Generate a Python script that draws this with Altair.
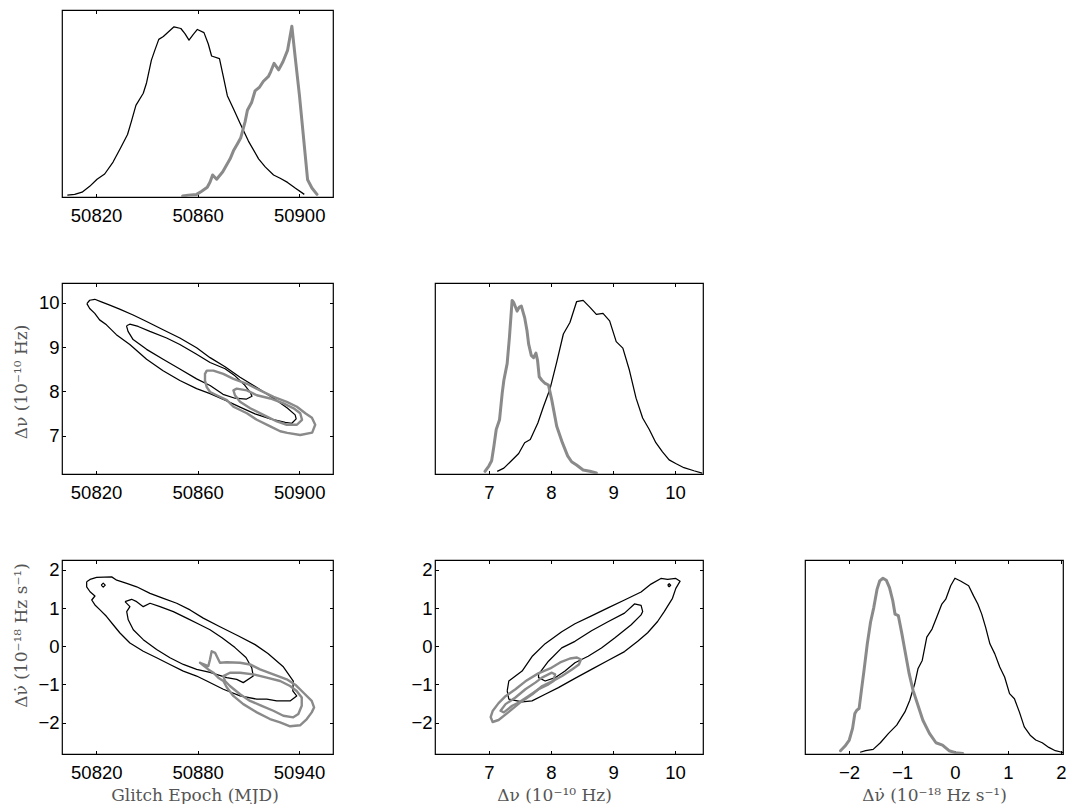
import altair as alt
import pandas as pd

# ---------------- marginal: glitch epoch (MJD) ----------------
ep_black_x = [50808.7, 50811.6, 50814.5, 50817.5, 50820.4, 50823.4, 50826.7, 50829.6, 50832.4, 50833.9,
              50835.7, 50838.6, 50839.9, 50841.8, 50843.2, 50844.7, 50846.5, 50847.8, 50850.7, 50853.4,
              50855.0, 50856.6, 50858.3, 50859.9, 50862.5, 50864.2, 50865.5, 50868.6, 50870.1, 50871.7,
              50874.1, 50876.7, 50880.0, 50884.0, 50886.6, 50889.9, 50892.5, 50895.4, 50898.4, 50902.0]
ep_black_d = [0.010, 0.014, 0.026, 0.057, 0.095, 0.123, 0.187, 0.261, 0.334, 0.403,
              0.490, 0.555, 0.611, 0.732, 0.787, 0.843, 0.858, 0.874, 0.910, 0.901,
              0.874, 0.839, 0.870, 0.896, 0.879, 0.818, 0.754, 0.740, 0.645, 0.542,
              0.472, 0.394, 0.299, 0.204, 0.161, 0.118, 0.100, 0.078, 0.048, 0.014]
ep_gray_x = [50854.1, 50856.3, 50859.6, 50861.6, 50863.8, 50864.9, 50865.9, 50867.5, 50869.9, 50872.8,
             50874.1, 50875.7, 50877.0, 50878.7, 50879.6, 50881.3, 50882.6, 50884.4, 50885.9, 50887.9,
             50888.8, 50890.1, 50891.9, 50893.6, 50895.4, 50897.1, 50898.4, 50900.1, 50901.7, 50903.3,
             50905.0, 50907.0]
ep_gray_d = [0.005, 0.010, 0.014, 0.031, 0.052, 0.080, 0.118, 0.095, 0.135, 0.204,
             0.247, 0.285, 0.317, 0.403, 0.464, 0.507, 0.567, 0.588, 0.619, 0.645,
             0.671, 0.715, 0.680, 0.723, 0.784, 0.913, 0.749, 0.542, 0.317, 0.092,
             0.048, 0.014]

# ---------------- marginal: delta nu ----------------
nu_black_x = [7.133, 7.240, 7.362, 7.479, 7.575, 7.666, 7.788, 7.879, 7.986, 8.092, 8.199, 8.305,
              8.412, 8.518, 8.625, 8.731, 8.838, 8.945, 9.051, 9.158, 9.264, 9.371, 9.477, 9.584,
              9.690, 9.797, 9.904, 10.010, 10.143, 10.303, 10.436]
nu_black_d = [0.014, 0.031, 0.069, 0.107, 0.164, 0.181, 0.267, 0.353, 0.448, 0.586, 0.733, 0.793,
              0.902, 0.909, 0.874, 0.836, 0.841, 0.802, 0.693, 0.659, 0.543, 0.397, 0.293, 0.233,
              0.164, 0.116, 0.074, 0.055, 0.033, 0.017, 0.005]
nu_gray_x = [6.936, 7.000, 7.043, 7.080, 7.117, 7.170, 7.213, 7.240, 7.293, 7.330, 7.373, 7.400,
             7.453, 7.490, 7.522, 7.575, 7.613, 7.639, 7.682, 7.719, 7.757, 7.783, 7.810, 7.852,
             7.906, 7.959, 8.012, 8.092, 8.183, 8.268, 8.332, 8.412, 8.518, 8.625, 8.731]
nu_gray_d = [0.014, 0.043, 0.069, 0.147, 0.233, 0.284, 0.422, 0.491, 0.578, 0.716, 0.909, 0.897,
             0.853, 0.874, 0.879, 0.819, 0.750, 0.681, 0.621, 0.609, 0.633, 0.595, 0.509, 0.491,
             0.474, 0.466, 0.388, 0.250, 0.164, 0.095, 0.064, 0.047, 0.021, 0.014, 0.005]

# ---------------- marginal: delta nu-dot ----------------
nd_black_x = [-1.790, -1.685, -1.543, -1.407, -1.253, -1.099, -0.944, -0.852, -0.759, -0.698,
              -0.617, -0.531, -0.432, -0.346, -0.247, -0.173, -0.080, 0.000, 0.105, 0.259,
              0.352, 0.432, 0.506, 0.580, 0.660, 0.753, 0.846, 0.938, 1.031, 1.123,
              1.216, 1.309, 1.420, 1.525, 1.648, 1.772, 1.895, 2.019, 2.130]
nd_black_d = [0.009, 0.017, 0.024, 0.058, 0.106, 0.149, 0.217, 0.277, 0.362, 0.439,
              0.482, 0.602, 0.644, 0.704, 0.773, 0.798, 0.867, 0.906, 0.892, 0.867,
              0.815, 0.773, 0.721, 0.653, 0.568, 0.516, 0.448, 0.397, 0.311, 0.285,
              0.217, 0.140, 0.097, 0.072, 0.058, 0.034, 0.017, 0.009, 0.003]
nd_gray_x = [-2.160, -2.074, -1.994, -1.932, -1.889, -1.852, -1.809, -1.765, -1.716, -1.654,
             -1.593, -1.531, -1.469, -1.420, -1.358, -1.296, -1.235, -1.173, -1.130, -1.068,
             -1.006, -0.944, -0.864, -0.790, -0.698, -0.605, -0.481, -0.358, -0.235, -0.111,
             0.012, 0.148]
nd_gray_d = [0.017, 0.041, 0.072, 0.132, 0.209, 0.226, 0.234, 0.328, 0.431, 0.568,
             0.679, 0.756, 0.850, 0.892, 0.906, 0.896, 0.858, 0.790, 0.721, 0.713,
             0.627, 0.533, 0.414, 0.328, 0.251, 0.174, 0.106, 0.058, 0.046, 0.017,
             0.007, 0.003]

# ---------------- contours: epoch vs delta nu ----------------
en_ob_x = [50816.4, 50817.5, 50819.5, 50822.1, 50825.4, 50829.3, 50834.6, 50839.9, 50846.4, 50853.0,
           50859.6, 50864.9, 50870.8, 50876.7, 50883.8, 50889.9, 50895.3, 50898.4, 50898.8, 50897.1,
           50894.5, 50888.6, 50882.6, 50876.7, 50870.8, 50864.9, 50859.6, 50853.0, 50846.4, 50839.9,
           50833.3, 50828.0, 50824.1, 50821.4, 50819.5, 50817.5, 50816.4]
en_ob_y = [9.984, 10.060, 10.082, 10.022, 9.949, 9.860, 9.727, 9.578, 9.393, 9.207,
           8.984, 8.762, 8.556, 8.318, 8.067, 7.844, 7.622, 7.467, 7.378, 7.278,
           7.300, 7.378, 7.489, 7.644, 7.800, 7.949, 8.060, 8.244, 8.467, 8.727,
           9.060, 9.282, 9.504, 9.616, 9.762, 9.873, 9.984]
en_ib_x = [50832.0, 50833.3, 50836.6, 50841.2, 50847.8, 50853.0, 50859.6, 50864.9, 50870.8, 50874.7,
           50878.3, 50880.7, 50881.4, 50879.1, 50874.7, 50870.0, 50864.9, 50859.6, 50853.0, 50846.4,
           50839.9, 50834.6, 50832.6, 50832.0]
en_ib_y = [9.482, 9.518, 9.467, 9.356, 9.207, 9.060, 8.838, 8.651, 8.511, 8.350,
           8.156, 7.978, 7.889, 7.822, 7.844, 7.933, 8.133, 8.282, 8.504, 8.727,
           8.949, 9.171, 9.356, 9.482]
en_og_x = [50862.9, 50863.6, 50866.2, 50870.1, 50874.1, 50879.4, 50884.6, 50889.9, 50895.1, 50899.1,
           50902.4, 50905.0, 50906.3, 50905.1, 50900.4, 50895.3, 50892.5, 50888.6, 50883.3, 50879.4,
           50874.1, 50871.5, 50867.5, 50864.9, 50863.6, 50862.9, 50862.9]
en_og_y = [8.393, 8.467, 8.467, 8.393, 8.282, 8.171, 8.022, 7.873, 7.762, 7.651,
           7.504, 7.400, 7.244, 7.067, 7.011, 7.060, 7.096, 7.207, 7.356, 7.504,
           7.651, 7.800, 7.911, 7.984, 8.096, 8.244, 8.393]
en_ig_x = [50874.1, 50875.4, 50879.4, 50883.3, 50888.6, 50893.8, 50897.8, 50900.4, 50901.1, 50899.1,
           50895.1, 50891.2, 50885.9, 50880.7, 50876.7, 50874.7, 50874.1]
en_ig_y = [8.022, 8.060, 8.022, 7.911, 7.838, 7.727, 7.616, 7.504, 7.356, 7.244,
           7.244, 7.318, 7.467, 7.616, 7.762, 7.911, 8.022]

# ---------------- contours: epoch vs delta nu-dot ----------------
ed_ob_x = [50814.3, 50816.3, 50820.2, 50829.1, 50832.1, 50838.0, 50843.9, 50851.8, 50859.7, 50867.6,
           50875.5, 50883.3, 50893.2, 50903.9, 50914.0, 50921.6, 50930.5, 50936.6, 50936.3, 50938.6,
           50934.7, 50926.8, 50920.9, 50915.0, 50905.1, 50895.2, 50885.4, 50879.4, 50871.5, 50863.6,
           50855.7, 50847.8, 50839.9, 50834.0, 50830.0, 50826.1, 50822.2, 50819.2, 50817.3, 50819.2,
           50816.3, 50814.3, 50814.3]
ed_ob_y = [1.688, 1.751, 1.803, 1.818, 1.732, 1.647, 1.558, 1.387, 1.257, 1.127,
           0.953, 0.738, 0.512, 0.278, 0.044, -0.190, -0.527, -0.909, -1.169, -1.299,
           -1.429, -1.429, -1.384, -1.384, -1.299, -1.125, -0.909, -0.779, -0.649, -0.475,
           -0.301, -0.130, 0.088, 0.348, 0.564, 0.779, 0.953, 1.083, 1.213, 1.317,
           1.429, 1.558, 1.688]
ed_ib_x = [50837.0, 50840.9, 50843.9, 50847.8, 50851.8, 50857.7, 50865.6, 50873.5, 50881.4, 50887.3,
           50894.4, 50902.1, 50908.6, 50912.0, 50912.9, 50907.0, 50903.1, 50897.2, 50887.3, 50879.4,
           50871.5, 50863.6, 50855.7, 50847.8, 50841.9, 50838.9, 50838.0, 50839.9, 50837.0]
ed_ib_y = [1.169, 1.231, 1.169, 1.039, 1.127, 1.039, 0.909, 0.738, 0.564, 0.434,
           0.226, -0.034, -0.294, -0.561, -0.779, -0.951, -0.865, -0.821, -0.683, -0.605,
           -0.475, -0.301, -0.086, 0.174, 0.434, 0.694, 0.909, 1.039, 1.169]
ed_isl_x = [50822.9, 50824.1, 50825.3, 50824.1, 50822.9]
ed_isl_y = [1.603, 1.655, 1.603, 1.551, 1.603]
ed_og_x = [50881.4, 50886.3, 50887.3, 50888.3, 50890.3, 50893.2, 50897.2, 50905.1, 50911.0, 50916.9,
           50924.8, 50932.7, 50938.2, 50942.5, 50947.5, 50948.9, 50947.5, 50944.6, 50940.6, 50934.7,
           50928.8, 50922.8, 50915.0, 50907.0, 50901.1, 50897.2, 50895.2, 50892.2, 50889.3, 50886.3,
           50881.4]
ed_og_y = [-0.431, -0.519, -0.345, -0.130, -0.171, -0.431, -0.416, -0.431, -0.475, -0.605,
           -0.735, -0.865, -1.021, -1.210, -1.429, -1.600, -1.730, -1.904, -2.068, -2.094,
           -1.990, -1.904, -1.730, -1.514, -1.299, -1.073, -0.909, -0.821, -0.691, -0.605,
           -0.431]
ed_ig_x = [50895.2, 50899.1, 50905.1, 50912.9, 50920.9, 50928.8, 50934.7, 50938.6, 50941.6, 50941.6,
           50939.6, 50936.6, 50930.7, 50924.8, 50917.9, 50911.0, 50905.1, 50899.1, 50896.2, 50895.2]
ed_ig_y = [-0.779, -0.691, -0.691, -0.735, -0.821, -0.909, -1.039, -1.169, -1.340, -1.558,
           -1.774, -1.860, -1.818, -1.688, -1.558, -1.429, -1.255, -1.039, -0.909, -0.779]

# ---------------- contours: delta nu vs delta nu-dot ----------------
nn_ob_x = [7.294, 7.320, 7.534, 7.694, 7.906, 8.173, 8.386, 8.653, 8.918, 9.185, 9.452, 9.612,
           9.772, 9.878, 10.012, 10.081, 10.012, 9.958, 9.825, 9.718, 9.558, 9.398, 9.185, 8.918,
           8.653, 8.386, 8.119, 7.906, 7.694, 7.534, 7.320, 7.294]
nn_ob_y = [-1.169, -0.909, -0.649, -0.268, 0.070, 0.382, 0.590, 0.797, 1.005, 1.213, 1.421, 1.629,
           1.777, 1.751, 1.777, 1.706, 1.517, 1.257, 0.909, 0.649, 0.356, 0.130, -0.138, -0.371,
           -0.605, -0.839, -1.081, -1.255, -1.429, -1.455, -1.384, -1.169]
nn_ib_x = [7.799, 7.959, 8.173, 8.386, 8.653, 8.918, 9.185, 9.345, 9.452, 9.478, 9.452, 9.293,
           9.026, 8.813, 8.599, 8.386, 8.226, 8.066, 7.906, 7.799, 7.799]
nn_ib_y = [-0.735, -0.390, -0.042, 0.130, 0.408, 0.642, 0.868, 1.109, 1.070, 0.909, 0.823, 0.564,
           0.218, -0.042, -0.260, -0.431, -0.649, -0.821, -0.909, -0.821, -0.735]
nn_isl_x = [9.881, 9.905, 9.929, 9.905, 9.881]
nn_isl_y = [1.600, 1.639, 1.600, 1.561, 1.600]
nn_og_x = [7.027, 7.059, 7.155, 7.267, 7.427, 7.587, 7.795, 7.987, 8.147, 8.306, 8.418, 8.482,
           8.450, 8.338, 8.178, 8.018, 7.859, 7.699, 7.491, 7.315, 7.155, 7.059, 7.027]
nn_og_y = [-1.852, -1.696, -1.488, -1.306, -1.125, -0.917, -0.709, -0.579, -0.423, -0.319, -0.294, -0.345,
           -0.475, -0.605, -0.779, -0.917, -1.039, -1.255, -1.488, -1.722, -1.930, -1.982, -1.852]
nn_ig_x = [7.187, 7.267, 7.427, 7.587, 7.747, 7.854, 8.014, 8.066, 8.039, 7.959, 7.799, 7.639,
           7.480, 7.374, 7.240, 7.187]
nn_ig_y = [-1.688, -1.514, -1.340, -1.125, -0.951, -0.821, -0.691, -0.735, -0.909, -0.995, -1.125, -1.299,
           -1.470, -1.558, -1.730, -1.688]

# ---------------- axes: domains, ticks, titles ----------------
epoch_dom_a = [50806.6, 50913.3]
epoch_dom_b = [50799.7, 50960.1]
nu_dom = [6.13, 10.45]
nd_dom = [-2.82, 2.26]
nd_dom_x = [-2.83, 2.04]
dens_dom = [0.0, 1.0]
epoch_ticks_a = [50820, 50860, 50900]
epoch_ticks_b = [50820, 50880, 50940]
nu_ticks = [7, 8, 9, 10]
nd_ticks = [-2, -1, 0, 1, 2]
title_epoch = "Glitch Epoch (MJD)"
title_nu = "Δν (10⁻¹⁰ Hz)"
title_nd = "Δν̇ (10⁻¹⁸ Hz s⁻¹)"

W1 = 271
W2 = 268
W3 = 258
H1, H2, H3 = 187, 191, 194
T = 3.5
BLACK_W = 1.25
GRAY = "#8a8a8a"


def make_df(*parts):
    rows = []
    for pid, xs, ys in parts:
        for i, (a, b) in enumerate(zip(xs, ys)):
            rows.append({"x": a, "y": b, "id": pid, "ord": i})
    return pd.DataFrame(rows)


def axis(orient, values, labels=True, title=None, **extra):
    pad = 9 if orient in ("bottom", "top") else 3
    kw = dict(orient=orient, values=values, offset=-T, tickSize=T, domain=False,
              grid=False, labels=labels, labelPadding=pad, format="d",
              labelFlush=False, title=title)
    kw.update(extra)
    return alt.Axis(**kw)


def panel(black, gray, xdom, ydom, xvals, yvals, w, h, gray_w,
          xtitle=None, ytitle=None, xshift=0, yshift=0):
    xs = alt.Scale(domain=xdom, nice=False, zero=False)
    ys = alt.Scale(domain=ydom, nice=False, zero=False)
    if yvals:
        if ytitle:
            ya1 = axis("left", yvals, True, ytitle, titleY=h / 2 + yshift, titlePadding=7.5)
        else:
            ya1 = axis("left", yvals, True, None)
        ya2 = axis("right", yvals, False, None, minExtent=0)
    else:
        ya1 = None
        ya2 = None
    if xtitle:
        xa1 = axis("bottom", xvals, True, xtitle, titleX=w / 2 + xshift, titlePadding=5.5)
    else:
        xa1 = axis("bottom", xvals, True, None)
    lb = alt.Chart(black).mark_line(color="black", strokeWidth=BLACK_W, clip=True,
                                    strokeJoin="round").encode(
        x=alt.X("x:Q", scale=xs, axis=xa1),
        y=alt.Y("y:Q", scale=ys, axis=ya1),
        detail="id:N", order="ord:Q")
    lg = alt.Chart(gray).mark_line(color=GRAY, strokeWidth=gray_w, clip=True,
                                   strokeJoin="round", strokeCap="round").encode(
        x=alt.X("x:Q", scale=xs, axis=axis("top", xvals, False, None, minExtent=0)),
        y=alt.Y("y:Q", scale=ys, axis=ya2),
        detail="id:N", order="ord:Q")
    return alt.layer(lb, lg).resolve_axis(x="independent", y="independent").properties(width=w, height=h)


def blank(w, h):
    empty = pd.DataFrame({"x": pd.Series([], dtype=float), "y": pd.Series([], dtype=float)})
    return alt.Chart(empty).mark_point(opacity=0).encode(
        x=alt.X("x:Q", axis=None), y=alt.Y("y:Q", axis=None)
    ).properties(width=w, height=h, view=alt.ViewBackground(stroke="transparent"))


p1 = panel(make_df(("b", ep_black_x, ep_black_d)), make_df(("g", ep_gray_x, ep_gray_d)),
           epoch_dom_a, dens_dom, epoch_ticks_a, None, W1, H1, 3.0)
p2 = panel(make_df(("o", en_ob_x, en_ob_y), ("i", en_ib_x, en_ib_y)),
           make_df(("o", en_og_x, en_og_y), ("i", en_ig_x, en_ig_y)),
           epoch_dom_a, nu_dom, epoch_ticks_a, nu_ticks, W1, H2, 2.4, ytitle=title_nu, yshift=3)
p4 = panel(make_df(("b", nu_black_x, nu_black_d)), make_df(("g", nu_gray_x, nu_gray_d)),
           nu_dom, dens_dom, nu_ticks, None, W2, H2, 3.0)
p3 = panel(make_df(("o", ed_ob_x, ed_ob_y), ("i", ed_ib_x, ed_ib_y), ("s", ed_isl_x, ed_isl_y)),
           make_df(("o", ed_og_x, ed_og_y), ("i", ed_ig_x, ed_ig_y)),
           epoch_dom_b, nd_dom, epoch_ticks_b, nd_ticks, W1, H3, 2.4,
           xtitle=title_epoch, ytitle=title_nd, xshift=-3, yshift=-22)
p5 = panel(make_df(("o", nn_ob_x, nn_ob_y), ("i", nn_ib_x, nn_ib_y), ("s", nn_isl_x, nn_isl_y)),
           make_df(("o", nn_og_x, nn_og_y), ("i", nn_ig_x, nn_ig_y)),
           nu_dom, nd_dom, nu_ticks, nd_ticks, W2, H3, 2.4, xtitle=title_nu, xshift=-15)
p6 = panel(make_df(("b", nd_black_x, nd_black_d)), make_df(("g", nd_gray_x, nd_gray_d)),
           nd_dom_x, dens_dom, nd_ticks, None, W3, H3, 3.0, xtitle=title_nd, xshift=0)

chart = alt.concat(
    p1, blank(W2, H1), blank(W3, H1),
    p2, p4, blank(W3, H2),
    p3, p5, p6,
    columns=3, spacing={"row": 86, "column": 102}, bounds="flush", align="each"
).properties(
    padding={"left": 3, "top": 0, "right": 0, "bottom": 0}
).configure_view(
    stroke="black", strokeWidth=1.2
).configure_axis(
    labelFont="Liberation Sans", labelFontSize=18.5, labelColor="black",
    tickColor="black", tickWidth=1,
    titleFont="DejaVu Serif", titleFontSize=17, titleFontWeight="normal",
    titleColor="#555555", titlePadding=6
)

chart.save("out.html", embed_options={"renderer": "svg", "actions": False})
